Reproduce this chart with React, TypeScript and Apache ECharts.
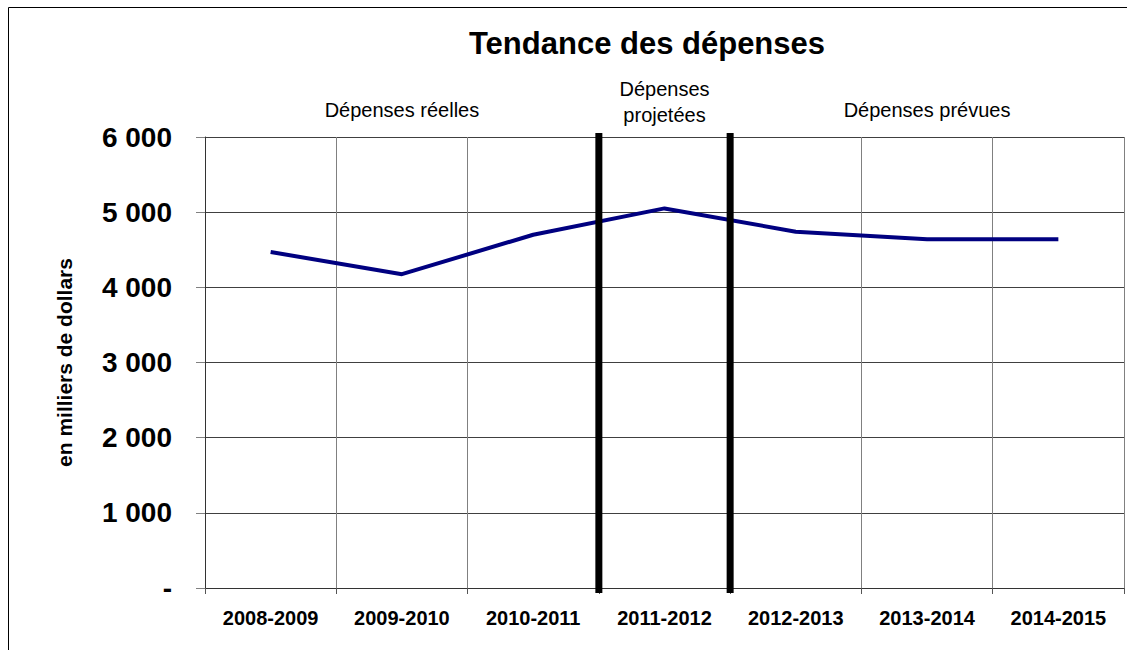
import React, { useEffect, useRef } from "react";
import * as echarts from "echarts";

const categories = ["2008-2009", "2009-2010", "2010-2011", "2011-2012", "2012-2013", "2013-2014", "2014-2015"];
const spending = [4470, 4175, 4700, 5050, 4740, 4640, 4640];
const yTicks = [0, 1000, 2000, 3000, 4000, 5000, 6000];
const dividerPositions = [3, 4];
const periodLabels = ["Dépenses réelles", "Dépenses\nprojetées", "Dépenses prévues"];
const periodCenters = [1.5, 3.5, 5.5];

const fmt = (v: number) => (v === 0 ? "-" : String(v).replace(/\B(?=(\d{3})+(?!\d))/g, " "));

export default function App() {
  const ref = useRef<HTMLDivElement>(null);
  useEffect(() => {
    document.body.style.margin = "0";
    const chart = echarts.init(ref.current!, undefined, { renderer: "svg" });
    const font = "Liberation Sans, Arial, sans-serif";
    chart.setOption({
      animation: false,
      textStyle: { fontFamily: font },
      grid: { left: 205, right: 3, top: 137, bottom: 62 },
      xAxis: [
        {
          type: "category",
          data: categories,
          boundaryGap: true,
          axisLine: { lineStyle: { color: "#333", width: 1 } },
          axisTick: { show: true, length: 6, interval: 0, lineStyle: { color: "#555" } },
          axisLabel: { interval: 0, margin: 20, color: "#000", fontWeight: "bold", fontSize: 20, fontFamily: font },
          splitLine: { show: true, interval: 0, lineStyle: { color: "#808080", width: 1 } },
        },
        { type: "value", min: 0, max: 7, show: false },
      ],
      yAxis: {
        type: "value",
        min: yTicks[0],
        max: yTicks[yTicks.length - 1],
        interval: 1000,
        name: "en milliers de dollars",
        nameLocation: "middle",
        nameRotate: 90,
        nameGap: 130,
        nameTextStyle: { color: "#000", fontWeight: "bold", fontSize: 21, fontFamily: font },
        axisLine: { show: true, lineStyle: { color: "#333", width: 1 } },
        axisTick: { show: true, length: 9, lineStyle: { color: "#808080" } },
        axisLabel: { margin: 33, color: "#000", fontWeight: "bold", fontSize: 28, fontFamily: font, formatter: fmt },
        splitLine: { show: true, lineStyle: { color: "#404040", width: 1 } },
      },
      series: [
        {
          type: "line",
          data: spending,
          symbol: "none",
          lineStyle: { color: "#000080", width: 4 },
          z: 3,
        },
        {
          type: "custom",
          xAxisIndex: 1,
          yAxisIndex: 0,
          z: 5,
          data: dividerPositions.map((p) => [p, 0]),
          renderItem: (params: any, api: any) => {
            const x = api.value(0);
            const top = api.coord([x, yTicks[yTicks.length - 1]]);
            const bot = api.coord([x, 0]);
            return {
              type: "line",
              shape: { x1: top[0], y1: top[1] - 4, x2: bot[0], y2: bot[1] + 5 },
              style: { stroke: "#000", lineWidth: 7 },
            };
          },
        },
        {
          type: "custom",
          xAxisIndex: 1,
          yAxisIndex: 0,
          z: 5,
          data: periodCenters.map((p, i) => [p, i]),
          renderItem: (params: any, api: any) => {
            const x = api.value(0);
            const i = api.value(1);
            const top = api.coord([x, yTicks[yTicks.length - 1]]);
            const label = periodLabels[i];
            const multi = label.indexOf("\n") >= 0;
            return {
              type: "text",
              x: top[0],
              y: multi ? top[1] - 35 : top[1] - 27,
              style: {
                text: label,
                fill: "#000",
                font: `20px ${font}`,
                align: "center",
                verticalAlign: "middle",
                lineHeight: 26,
              },
            };
          },
        },
      ],
      graphic: [
        {
          type: "rect",
          z: -1,
          shape: { x: 8.5, y: 7.5, width: 1300, height: 800 },
          style: { fill: "none", stroke: "#000", lineWidth: 1 },
        },
        {
          type: "text",
          x: 647,
          y: 43,
          style: {
            text: "Tendance des dépenses",
            fill: "#000",
            font: `bold 31px ${font}`,
            align: "center",
            verticalAlign: "middle",
          },
        },
      ],
    });
    return () => chart.dispose();
  }, []);
  return <div ref={ref} style={{ width: 1127, height: 650 }} />;
}
